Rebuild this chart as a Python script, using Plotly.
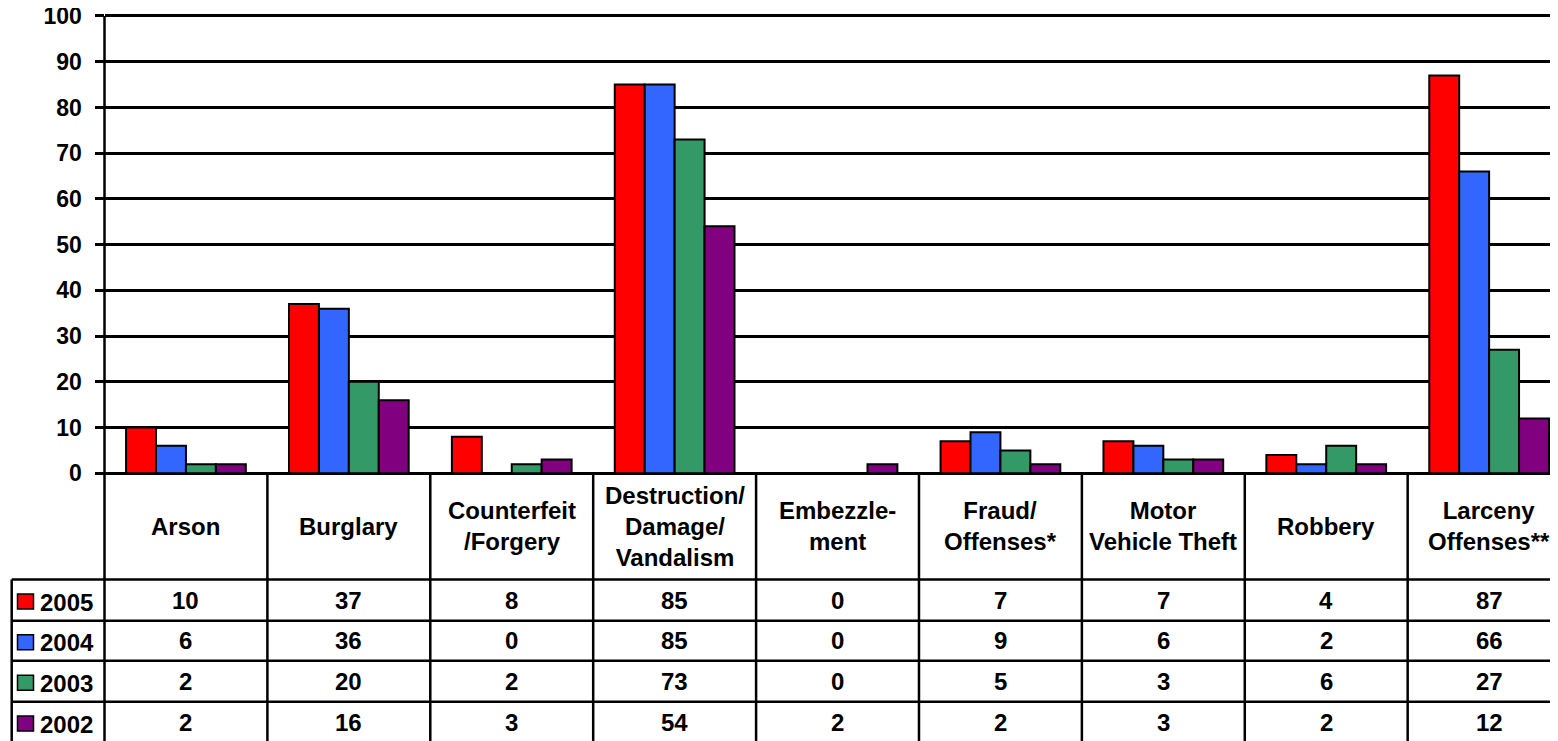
import plotly.graph_objects as go

# ---------------- data ----------------
categories = ["Arson", "Burglary", "Counterfeit<br>/Forgery", "Destruction/<br>Damage/<br>Vandalism",
              "Embezzle-<br>ment", "Fraud/<br>Offenses*", "Motor<br>Vehicle Theft", "Robbery",
              "Larceny<br>Offenses**"]
years = ["2005", "2004", "2003", "2002"]
v2005 = [10, 37, 8, 85, 0, 7, 7, 4, 87]
v2004 = [6, 36, 0, 85, 0, 9, 6, 2, 66]
v2003 = [2, 20, 2, 73, 0, 5, 3, 6, 27]
v2002 = [2, 16, 3, 54, 2, 2, 3, 2, 12]
y_ticks = [0, 10, 20, 30, 40, 50, 60, 70, 80, 90, 100]

series = [v2005, v2004, v2003, v2002]
colors = ["#FF0000", "#3366FF", "#339966", "#800080"]

# page body has an 8px margin, so the figure is offset by 8px
OFF = 8
W, H = 1558 - OFF, 741 - OFF
FONT = "Arial, 'Liberation Sans', sans-serif"
FS = 24


def px(x):
    return (x - OFF) / W


def py(y):
    return 1 - (y - OFF) / H


x_idx = list(range(len(categories)))

fig = go.Figure()
for yr, vals, col in zip(years, series, colors):
    fig.add_trace(go.Bar(x=x_idx, y=vals, name=yr, marker=dict(color=col, line=dict(color="black", width=2)),
                         showlegend=False))

# geometry (reference pixels)
axis_x = 104.5
zero_y = 473.3
top_y = 16
header_bottom = 579.5
row_lines = [579.5, 620.7, 660.7, 701.7, 742.5]
legend_left = 11.7
col_w = 162.0
x_right = -0.5 + (1558 - axis_x) / col_w
LW = 2.5
YMAX = 101
unit = (zero_y - top_y) / 100.0
dom_top_y = zero_y - unit * YMAX

shapes = []
line = dict(color="black", width=LW)
# vertical axis line continuing down through the table
shapes.append(dict(type="line", xref="paper", yref="paper", x0=px(axis_x), x1=px(axis_x),
                   y0=py(top_y), y1=0, line=line))
# horizontal row lines
for ry in row_lines[:-1]:
    shapes.append(dict(type="line", xref="paper", yref="paper", x0=px(legend_left), x1=1,
                       y0=py(ry), y1=py(ry), line=line))
# legend column left border
shapes.append(dict(type="line", xref="paper", yref="paper", x0=px(legend_left), x1=px(legend_left),
                   y0=py(header_bottom), y1=0, line=line))
# column lines (category boundaries)
for i in range(1, len(categories)):
    shapes.append(dict(type="line", xref="x", yref="paper", x0=i - 0.5, x1=i - 0.5,
                       y0=py(zero_y), y1=0, line=line))

annotations = []
# header labels
for i, c in enumerate(categories):
    annotations.append(dict(x=i, xref="x", y=py((zero_y + header_bottom) / 2), yref="paper",
                            text=c, showarrow=False, xanchor="center", yanchor="middle",
                            font=dict(family=FONT, size=FS, color="black", weight="bold")))
# rows
for r, (yr, vals, col) in enumerate(zip(years, series, colors)):
    cy = (row_lines[r] + row_lines[r + 1]) / 2
    shapes.append(dict(type="rect", xref="paper", yref="paper", x0=px(17.5), x1=px(33.5),
                       y0=py(cy - 6), y1=py(cy + 9), fillcolor=col, line=dict(color="black", width=1.5)))
    annotations.append(dict(x=px(38), xref="paper", y=py(cy + 2), yref="paper", text=yr, showarrow=False,
                            xanchor="left", yanchor="middle",
                            font=dict(family=FONT, size=FS, color="black", weight="bold")))
    for i, v in enumerate(vals):
        annotations.append(dict(x=i, xref="x", y=py(cy), yref="paper", text=str(v), showarrow=False,
                                xanchor="center", yanchor="middle",
                                font=dict(family=FONT, size=FS, color="black", weight="bold")))

fig.update_layout(
    width=W, height=H,
    margin=dict(l=0, r=0, t=0, b=0, autoexpand=False),
    paper_bgcolor="white", plot_bgcolor="white",
    barmode="group", bargap=0.265, bargroupgap=0,
    font=dict(family=FONT, size=FS, color="black", weight="bold"),
    xaxis=dict(domain=[px(axis_x), 1], range=[-0.5, x_right - OFF / col_w], showticklabels=False,
               showgrid=False, zeroline=False, showline=False, ticks="", automargin=False),
    yaxis=dict(domain=[py(zero_y), py(dom_top_y)], range=[0, YMAX], tickvals=y_ticks,
               ticktext=[str(t) for t in y_ticks], automargin=False,
               showgrid=True, gridcolor="black", gridwidth=LW,
               zeroline=True, zerolinecolor="black", zerolinewidth=LW,
               showline=False,
               ticks="outside", ticklen=9, tickwidth=LW, tickcolor="black",
               ticklabelstandoff=8, ticklabeloverflow="allow",
               tickfont=dict(family=FONT, size=23, color="black", weight="bold")),
    shapes=shapes, annotations=annotations,
)

fig.write_html("out.html")
